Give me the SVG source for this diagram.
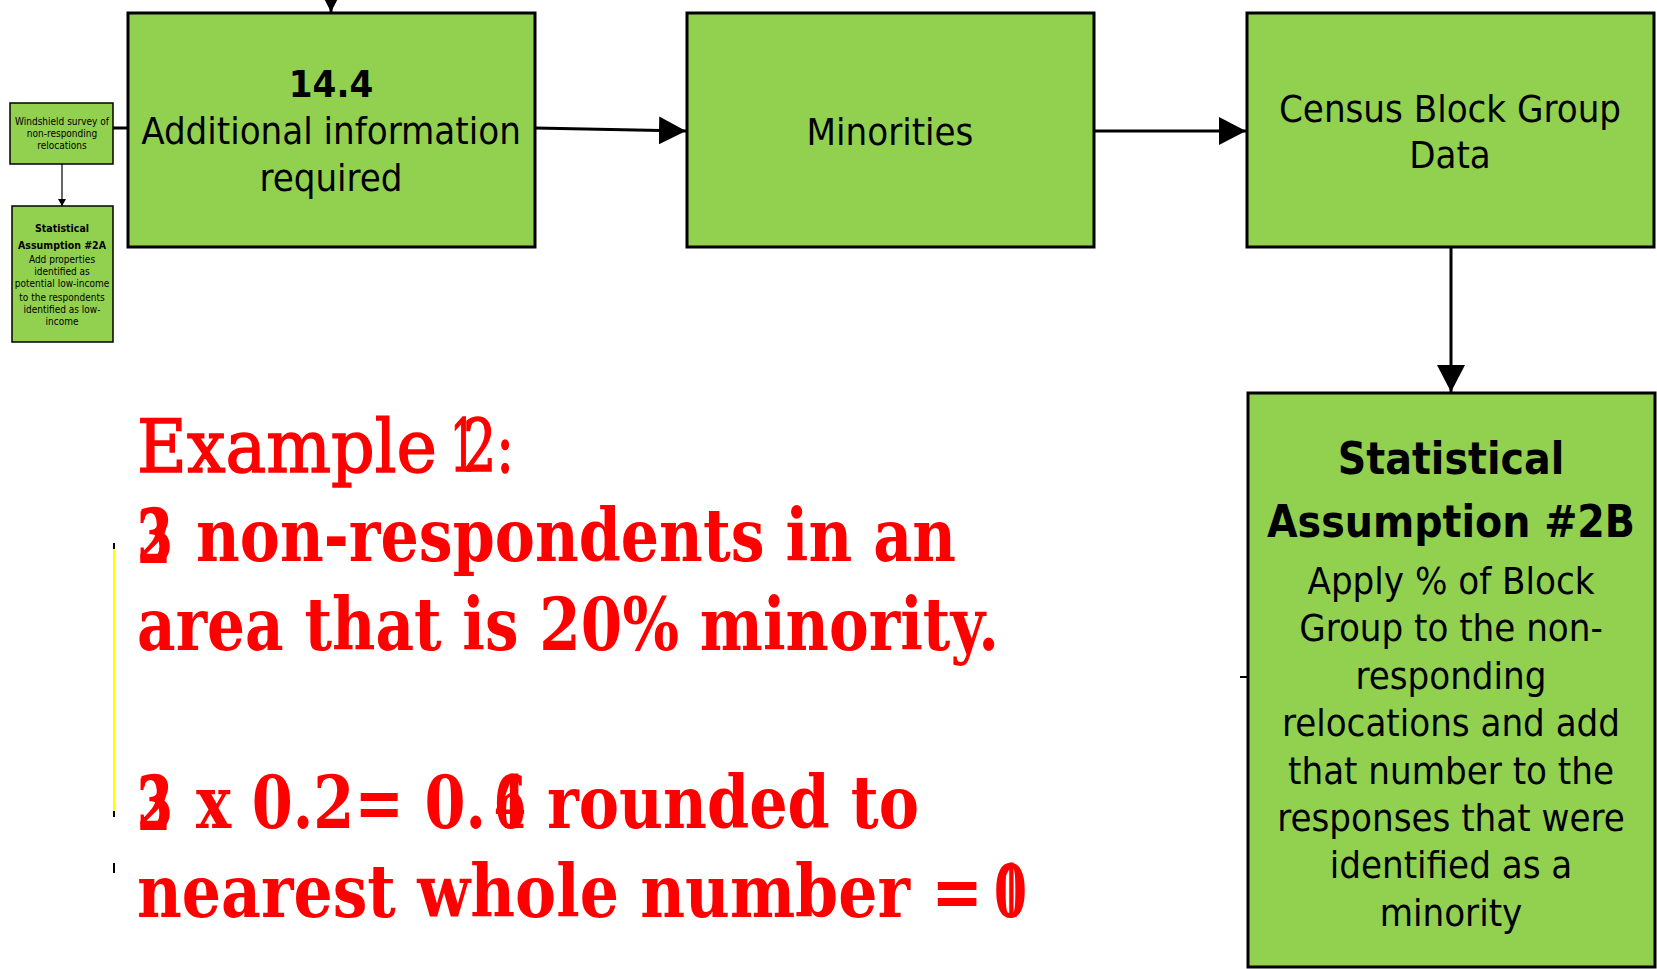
<svg xmlns="http://www.w3.org/2000/svg" width="1657" height="969" viewBox="0 0 1657 969">
<style>
.box{fill:#92D050;stroke:#000;stroke-width:3}
.sbox{fill:#92D050;stroke:#000;stroke-width:1.5}
.t{font-family:'DejaVu Sans Condensed','DejaVu Sans',sans-serif;font-stretch:condensed;fill:#000;text-anchor:middle;font-size:38px}
.b{font-weight:bold}
.st{font-family:'DejaVu Sans Condensed','DejaVu Sans',sans-serif;font-stretch:condensed;fill:#000;text-anchor:middle;font-size:10px}
.red{font-family:'DejaVu Serif',serif;fill:#FF0000;font-size:72px;font-weight:bold}
.reg{font-weight:normal;stroke:#FF0000;stroke-width:1.5}
.conn{stroke:#000;stroke-width:3;fill:none}
</style>
<defs>
<marker id="ah" markerUnits="userSpaceOnUse" markerWidth="28" markerHeight="28" refX="27" refY="14" orient="auto"><path d="M0,0 L27,14 L0,28 Z" fill="#000"/></marker>
<marker id="ahs" markerUnits="userSpaceOnUse" markerWidth="8" markerHeight="8" refX="7" refY="4" orient="auto"><path d="M0,0 L7,4 L0,8 Z" fill="#000"/></marker>
</defs>
<g id="connectors">
<line class="conn" x1="331" y1="-30" x2="331" y2="12" marker-end="url(#ah)"/>
<line class="conn" x1="113" y1="128" x2="128" y2="128"/>
<line stroke="#000" stroke-width="1.2" x1="62" y1="164" x2="62" y2="206" marker-end="url(#ahs)"/>
<line class="conn" x1="535" y1="128" x2="686" y2="131" marker-end="url(#ah)"/>
<line class="conn" x1="1094" y1="131" x2="1246" y2="131" marker-end="url(#ah)"/>
<line class="conn" x1="1451" y1="247" x2="1451" y2="392" marker-end="url(#ah)"/>
<line stroke="#000" stroke-width="2" x1="1240" y1="677" x2="1248" y2="677"/>
<line stroke="#FFFF00" stroke-width="2" x1="114" y1="546" x2="114" y2="814"/>
<line stroke="#000" stroke-width="2" x1="114" y1="543" x2="114" y2="549"/>
<line stroke="#000" stroke-width="2" x1="114" y1="811" x2="114" y2="817"/>
<line stroke="#000" stroke-width="2" x1="114" y1="863" x2="114" y2="873"/>
</g>
<g id="node-windshield">
<rect class="sbox" x="10" y="103" width="103" height="61"/>
<text class="st" x="62" y="125">Windshield survey of</text>
<text class="st" x="62" y="137">non-responding</text>
<text class="st" x="62" y="149">relocations</text>
</g>
<g id="node-stat2a">
<rect class="sbox" x="12" y="206" width="101" height="136"/>
<text class="st b" x="62" y="232" style="font-size:10.5px">Statistical</text>
<text class="st b" x="62" y="249" style="font-size:10.5px">Assumption #2A</text>
<text class="st" x="62" y="263">Add properties</text>
<text class="st" x="62" y="275">identified as</text>
<text class="st" x="62" y="287">potential low-income</text>
<text class="st" x="62" y="301">to the respondents</text>
<text class="st" x="62" y="313">identified as low-</text>
<text class="st" x="62" y="325">income</text>
</g>
<g id="node-14-4">
<rect class="box" x="128" y="13" width="407" height="234"/>
<text class="t b" x="331" y="97">14.4</text>
<text class="t" x="331" y="144">Additional information</text>
<text class="t" x="331" y="191">required</text>
</g>
<g id="node-minorities">
<rect class="box" x="687" y="13" width="407" height="234"/>
<text class="t" x="890" y="145">Minorities</text>
</g>
<g id="node-census">
<rect class="box" x="1247" y="13" width="407" height="234"/>
<text class="t" x="1450" y="122">Census Block Group</text>
<text class="t" x="1450" y="168">Data</text>
</g>
<g id="node-stat2b">
<rect class="box" x="1248" y="393" width="407" height="574"/>
<text class="t b" x="1451" y="474" style="font-size:44px">Statistical</text>
<text class="t b" x="1451" y="537" style="font-size:44px">Assumption #2B</text>
<text class="t" x="1451" y="594">Apply % of Block</text>
<text class="t" x="1451" y="641">Group to the non-</text>
<text class="t" x="1451" y="689">responding</text>
<text class="t" x="1451" y="736">relocations and add</text>
<text class="t" x="1451" y="784">that number to the</text>
<text class="t" x="1451" y="831">responses that were</text>
<text class="t" x="1451" y="878">identified as a</text>
<text class="t" x="1451" y="926">minority</text>
</g>
<g id="example-text">
<text class="red reg" x="137" y="472" textLength="300" lengthAdjust="spacingAndGlyphs">Example</text>
<text class="red reg" x="450" y="472" textLength="27" lengthAdjust="spacingAndGlyphs">1</text>
<text class="red reg" x="463" y="472" textLength="51" lengthAdjust="spacingAndGlyphs">2:</text>
<text class="red" x="137" y="561" textLength="36" lengthAdjust="spacingAndGlyphs">3</text>
<text class="red" x="137" y="563" textLength="34" lengthAdjust="spacingAndGlyphs">2</text>
<text class="red" x="196" y="561" textLength="760" lengthAdjust="spacingAndGlyphs">non-respondents in an</text>
<text class="red" x="137" y="650" textLength="862" lengthAdjust="spacingAndGlyphs">area that is 20% minority.</text>
<text class="red" x="137" y="828" textLength="36" lengthAdjust="spacingAndGlyphs">3</text>
<text class="red" x="137" y="830" textLength="34" lengthAdjust="spacingAndGlyphs">2</text>
<text class="red" x="196" y="828" textLength="290" lengthAdjust="spacingAndGlyphs">x 0.2= 0.</text>
<text class="red" x="494" y="828" textLength="32" lengthAdjust="spacingAndGlyphs">4</text>
<text class="red" x="494" y="828" textLength="32" lengthAdjust="spacingAndGlyphs">6</text>
<text class="red" x="547" y="828" textLength="372" lengthAdjust="spacingAndGlyphs">rounded to</text>
<text class="red" x="137" y="917" textLength="846" lengthAdjust="spacingAndGlyphs">nearest whole number =</text>
<text class="red" x="994" y="917" textLength="33" lengthAdjust="spacingAndGlyphs">0</text>
<text class="red" x="1003" y="917" textLength="16" lengthAdjust="spacingAndGlyphs">1</text>
</g>
</svg>
